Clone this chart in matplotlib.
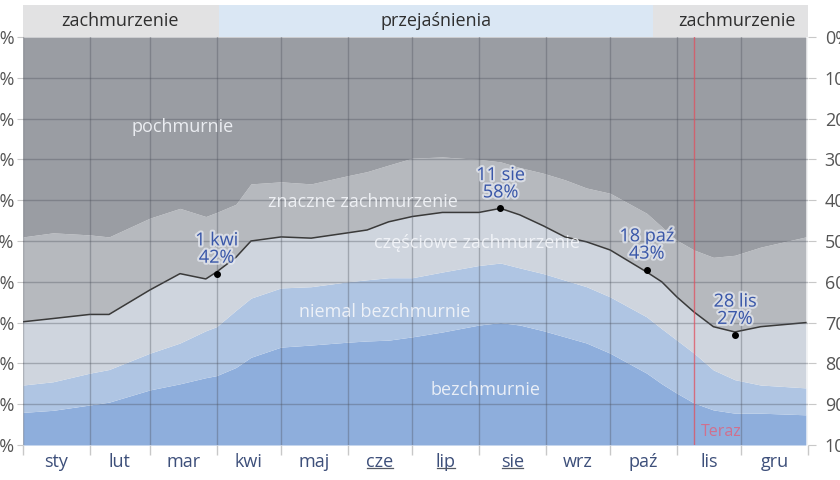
import numpy as np
import matplotlib.pyplot as plt
import matplotlib.patheffects as pe
from matplotlib.transforms import blended_transform_factory

plt.rcParams['font.family'] = ['Open Sans', 'DejaVu Sans']

# day of year and cumulative boundaries (% of time, measured from bottom)
days = [1, 15, 32, 41, 60, 74, 86, 91, 100, 107, 121, 135, 152, 161, 171, 182,
        196, 213, 223, 232, 243, 253, 263, 274, 291, 298, 305, 313, 322, 332, 344, 365]
clear = [8, 8.5, 9.8, 10.5, 13.5, 15, 16.5, 17, 19, 21.5, 24, 24.5, 25.2, 25.5, 25.7, 26.5,
         27.7, 29.4, 30, 29.4, 28, 26.5, 25, 22.5, 17.6, 15, 12.7, 10.3, 8.6, 7.8, 7.8, 7.4]
mostly_clear = [14.7, 15.5, 17.6, 18.5, 22.5, 25, 28, 29, 33, 36, 38.5, 38.8, 40, 40.5, 41, 41,
                42.4, 44, 44.6, 43.4, 42, 40.4, 38.8, 36.3, 31.4, 28.5, 25.7, 22.5, 18.4, 16, 14.7, 14]
partly = [30.2, 31, 32, 32, 38, 42, 40.7, 42.4, 46, 50, 51, 50.7, 52, 52.7, 54.7, 56,
          57, 57, 58, 56.4, 53.7, 51, 49.8, 47.8, 42.4, 40, 36.3, 32.6, 29, 27.7, 29, 30]
mostly_cloudy = [51, 52, 51.5, 51, 55.6, 58, 56, 57, 59, 64, 64.5, 64, 66, 67, 68.6, 70.3,
                 70.6, 70, 69.4, 68, 66.6, 65, 63, 61.7, 56.8, 53.5, 50.2, 47.8, 46, 46.5, 48.5, 51]

month_starts = [1, 32, 60, 91, 121, 152, 182, 213, 244, 274, 305, 335, 366]
month_names = ['sty', 'lut', 'mar', 'kwi', 'maj', 'cze', 'lip', 'sie', 'wrz', 'paź', 'lis', 'gru']
summer = ['cze', 'lip', 'sie']

notes_day = [91, 223, 291, 332]
notes_val = [42, 58, 43, 27]
notes_txt = ['1 kwi\n42%', '11 sie\n58%', '18 paź\n43%', '28 lis\n27%']

now_day = 313

band_labels = ['zachmurzenie', 'przejaśnienia', 'zachmurzenie']
band_edges = [1, 92, 294, 366]
band_colors = ['#e2e2e3', '#dae7f4', '#e2e2e3']

fig = plt.figure(figsize=(8.4, 4.8), dpi=100)
ax = fig.add_axes([23/840, 35/480, 785/840, 408/480])

d = np.array(days)
c1 = '#8eaedc'
c2 = '#afc5e3'
c3 = '#cfd5de'
c4 = '#b6b9be'
c5 = '#9a9da3'
ax.fill_between(d, 0, clear, color=c1, lw=0)
ax.fill_between(d, clear, mostly_clear, color=c2, lw=0)
ax.fill_between(d, mostly_clear, partly, color=c3, lw=0)
ax.fill_between(d, partly, mostly_cloudy, color=c4, lw=0)
ax.fill_between(d, mostly_cloudy, 100, color=c5, lw=0)
ax.plot(d, partly, color='#3a3a3a', lw=1.1)

ax.set_xlim(1, 366)
ax.set_ylim(0, 100)

for m in month_starts:
    ax.axvline(m, color='#4a4f5a', alpha=0.35, lw=1)
for v in range(10, 100, 10):
    ax.axhline(v, color='#4a4f5a', alpha=0.35, lw=1)

# layer names
lab_kw = dict(color='#f4f6fa', fontsize=13, ha='center', va='center', alpha=0.9)
ax.text(75, 78, 'pochmurnie', **lab_kw)
ax.text(159, 59.5, 'znaczne zachmurzenie', **lab_kw)
ax.text(212, 49.5, 'częściowe zachmurzenie', **lab_kw)
ax.text(169, 32.5, 'niemal bezchmurnie', **lab_kw)
ax.text(216, 13.5, 'bezchmurnie', **lab_kw)

# annotations
halo = [pe.withStroke(linewidth=3, foreground='#e8ecf4', alpha=0.7)]
for dd, vv, tt in zip(notes_day, notes_val, notes_txt):
    ax.plot(dd, vv, 'o', color='black', ms=4, zorder=5)
    ax.annotate(tt, (dd, vv), xytext=(0, 5), textcoords='offset points',
                ha='center', va='bottom', fontsize=13, color='#3a57a8',
                linespacing=0.95, path_effects=halo, zorder=6)

# now line
ax.axvline(now_day, color='#e0505e', lw=1, alpha=0.75)
ax.text(now_day + 3, 1.2, 'Teraz', color='#d0708e', fontsize=11.5, ha='left', va='bottom')

# top band
tr = blended_transform_factory(ax.transData, ax.transAxes)
for i in range(3):
    ax.add_patch(plt.Rectangle((band_edges[i], 1.0), band_edges[i+1] - band_edges[i], 0.078,
                               transform=tr, color=band_colors[i], clip_on=False, lw=0))
band_x = [46, 193, 333]
for bx, bl in zip(band_x, band_labels):
    ax.text(bx, 1.039, bl, transform=tr, ha='center', va='center', fontsize=13, color='#2f2f2f')

# x axis
ax.set_xticks(month_starts)
ax.set_xticklabels([])
ax.tick_params(axis='x', which='major', length=7, color='#c8c8c8', width=1)
mids = [(month_starts[i] + month_starts[i+1]) / 2 for i in range(12)]
ax.set_xticks(mids, minor=True)
ax.set_xticklabels(month_names, minor=True, fontsize=13, color='#3d4f7a')
ax.tick_params(axis='x', which='minor', length=0, pad=6)

# y axes
ax.set_yticks(range(0, 101, 10))
ax.set_yticklabels([f'{v}%' for v in range(0, 101, 10)], fontsize=13, color='#555555')
ax.tick_params(axis='y', length=4, color='#c8c8c8', pad=2)
ax2 = ax.twinx()
ax2.set_ylim(100, 0)
ax2.set_yticks(range(0, 101, 10))
ax2.set_yticklabels([f'{v}%' for v in range(0, 101, 10)], fontsize=13, color='#555555')
ax2.tick_params(axis='y', length=6, color='#c8c8c8', pad=6)

for a in (ax, ax2):
    for s in a.spines.values():
        s.set_visible(False)

# underline summer months under their labels
fig.canvas.draw()
inv = ax.transData.inverted()
for lab in ax.get_xticklabels(minor=True):
    if lab.get_text() in summer:
        bb = lab.get_window_extent()
        x0 = inv.transform((bb.x0 + 1, 0))[0]
        x1 = inv.transform((bb.x1 - 1, 0))[0]
        ax.plot([x0, x1], [-0.057, -0.057], transform=tr, color='#555a66',
                lw=0.9, clip_on=False)

fig.savefig('out.png', dpi=100, facecolor='white')
